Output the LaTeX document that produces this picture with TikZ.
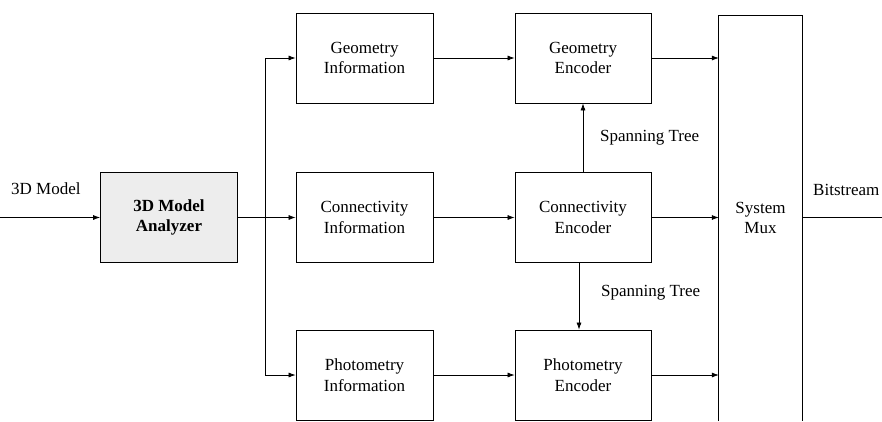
\documentclass[tikz,border=0pt]{standalone}
\usepackage{fontspec}
\setmainfont{Liberation Serif}
\usetikzlibrary{arrows.meta,calc}
\begin{document}
\begin{tikzpicture}[x=1pt,y=-1pt,
  font=\fontsize{17}{20.5}\selectfont,
  blk/.style={draw=black,line width=0.8pt,minimum width=137pt,minimum height=90pt,
    align=center,inner sep=2pt},
  lbl/.style={inner sep=0pt},
  conn/.style={line width=0.7pt,-{Latex[length=7pt,width=5pt]}},
  plain/.style={line width=0.7pt}]
\useasboundingbox (0,0) rectangle (882,421);

% processing blocks
\node[blk,fill=gray!14,font=\fontsize{17}{20.5}\selectfont\bfseries] (ana) at (169,217.5) {3D Model\\Analyzer};
\node[blk] (gi) at (364.5,58) {Geometry\\Information};
\node[blk] (ci) at (364.5,217.5) {Connectivity\\Information};
\node[blk] (pi) at (364.5,375) {Photometry\\Information};
\node[blk,minimum width=136pt] (ge) at (583,58) {Geometry\\Encoder};
\node[blk,minimum width=136pt] (ce) at (583,217.5) {Connectivity\\Encoder};
\node[blk,minimum width=136pt] (pe) at (583,375) {Photometry\\Encoder};

% multiplexer, open at the bottom edge
\node[minimum width=83pt,minimum height=406pt,align=center,inner sep=0pt] (mux) at (760.5,218) {System\\Mux};
\draw[line width=0.8pt] (mux.west |- 0,421) -- (mux.west |- 0,15) -- (mux.east |- 0,15) -- (mux.east |- 0,421);

% input and output
\coordinate (in) at (0,217.5);
\coordinate (out) at (882,217.5);
\coordinate (split) at (265,217.5);
\node[lbl,anchor=west] (inl) at (11,189) {3D Model};
\node[lbl,anchor=west] (outl) at (813,190) {Bitstream};
\draw[conn] (in) -- (ana.west);
\draw[plain] (ana.east) -- (split);
\draw[plain] (mux.east |- out) -- (out);

% fan-out to the information blocks
\draw[conn] (split) |- (gi.west);
\draw[conn] (split) -- (ci.west);
\draw[conn] (split) |- (pi.west);

% information to encoders
\draw[conn] (gi.east) -- (ge.west);
\draw[conn] (ci.east) -- (ce.west);
\draw[conn] (pi.east) -- (pe.west);

% encoders to multiplexer
\draw[conn] (ge.east) -- (ge.east -| mux.west);
\draw[conn] (ce.east) -- (ce.east -| mux.west);
\draw[conn] (pe.east) -- (pe.east -| mux.west);

% spanning tree links
\draw[conn] (ce.north) -- (ge.south);
\draw[conn] ([xshift=-4pt]ce.south) -- ([xshift=-4pt]pe.north);
\node[lbl,anchor=west] (st1) at (600,138) {Spanning Tree};
\node[lbl,anchor=west] (st2) at (601,293) {Spanning Tree};
\end{tikzpicture}
\end{document}
